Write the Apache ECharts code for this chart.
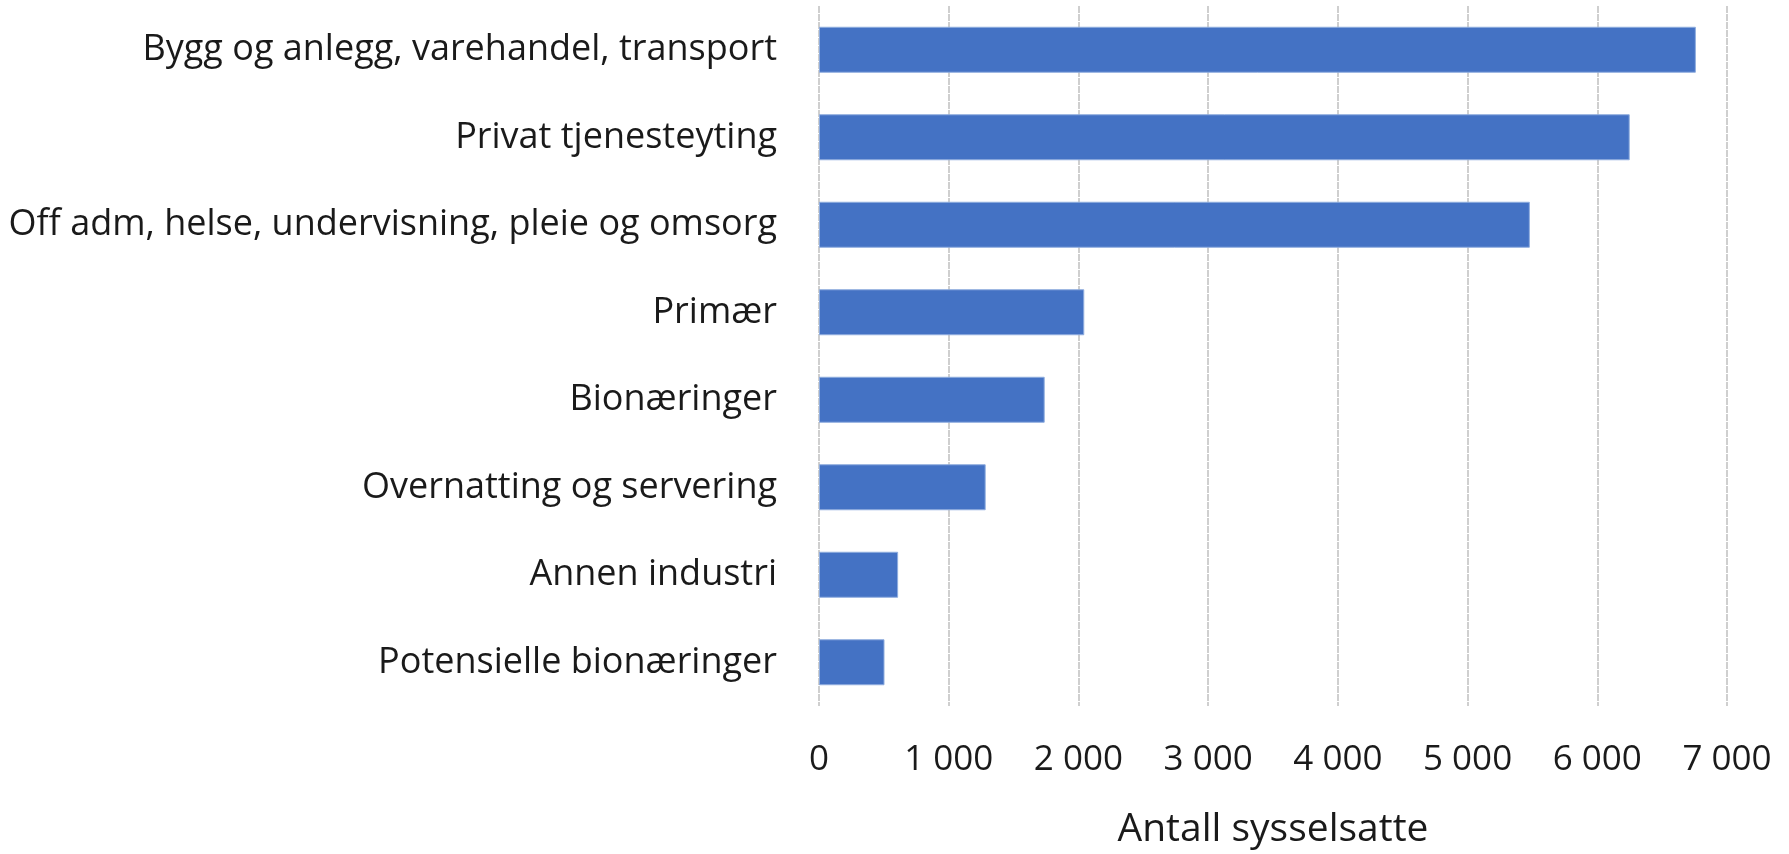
<!DOCTYPE html>
<html>
<head>
<meta charset="utf-8">
<script src="https://cdn.jsdelivr.net/npm/echarts@6/dist/echarts.min.js"></script>
<style>
  html, body { margin: 0; padding: 0; background: #fff; }
  #container { width: 1789px; height: 854px; }
</style>
</head>
<body>
<div id="container"></div>
<script>
// næringer, øverst først
var categories = [
    'Bygg og anlegg, varehandel, transport',
    'Privat tjenesteyting',
    'Off adm, helse, undervisning, pleie og omsorg',
    'Primær',
    'Bionæringer',
    'Overnatting og servering',
    'Annen industri',
    'Potensielle bionæringer'
];
var sysselsatte = [6760, 6250, 5480, 2045, 1740, 1285, 610, 505];
var xTicks = [0, 1000, 2000, 3000, 4000, 5000, 6000, 7000];

var myChart = echarts.init(document.getElementById('container'));

var option = {
    backgroundColor: '#ffffff',
    animation: false,
    grid: {
        left: 819,
        right: 62,
        top: 6,
        bottom: 144,
        containLabel: false
    },
    xAxis: {
        type: 'value',
        min: xTicks[0],
        max: xTicks[xTicks.length - 1],
        interval: 1000,
        name: 'Antall sysselsatte',
        nameLocation: 'middle',
        nameGap: 104,
        nameTextStyle: {
            fontFamily: 'Open Sans',
            fontSize: 39,
            color: '#1a1a1a'
        },
        axisLine: { show: false },
        axisTick: { show: false },
        axisLabel: {
            margin: 37,
            fontFamily: 'Open Sans',
            fontSize: 35,
            color: '#1a1a1a',
            formatter: function (v) {
                return String(v).replace(/\B(?=(\d{3})+(?!\d))/g, ' ');
            }
        },
        splitLine: {
            show: true,
            lineStyle: { color: '#cfcfcf', width: 2, type: [7, 1] }
        }
    },
    yAxis: {
        type: 'category',
        inverse: true,
        data: categories,
        axisLine: { show: false },
        axisTick: { show: false },
        axisLabel: {
            margin: 42,
            fontFamily: 'Open Sans',
            fontSize: 36,
            color: '#1a1a1a'
        },
        splitLine: { show: false }
    },
    series: [
        {
            name: 'Antall sysselsatte',
            type: 'bar',
            data: sysselsatte,
            barWidth: 46,
            itemStyle: {
                color: '#4472C4',
                borderColor: '#8fadde',
                borderWidth: 1
            }
        }
    ]
};

myChart.setOption(option);
</script>
</body>
</html>
